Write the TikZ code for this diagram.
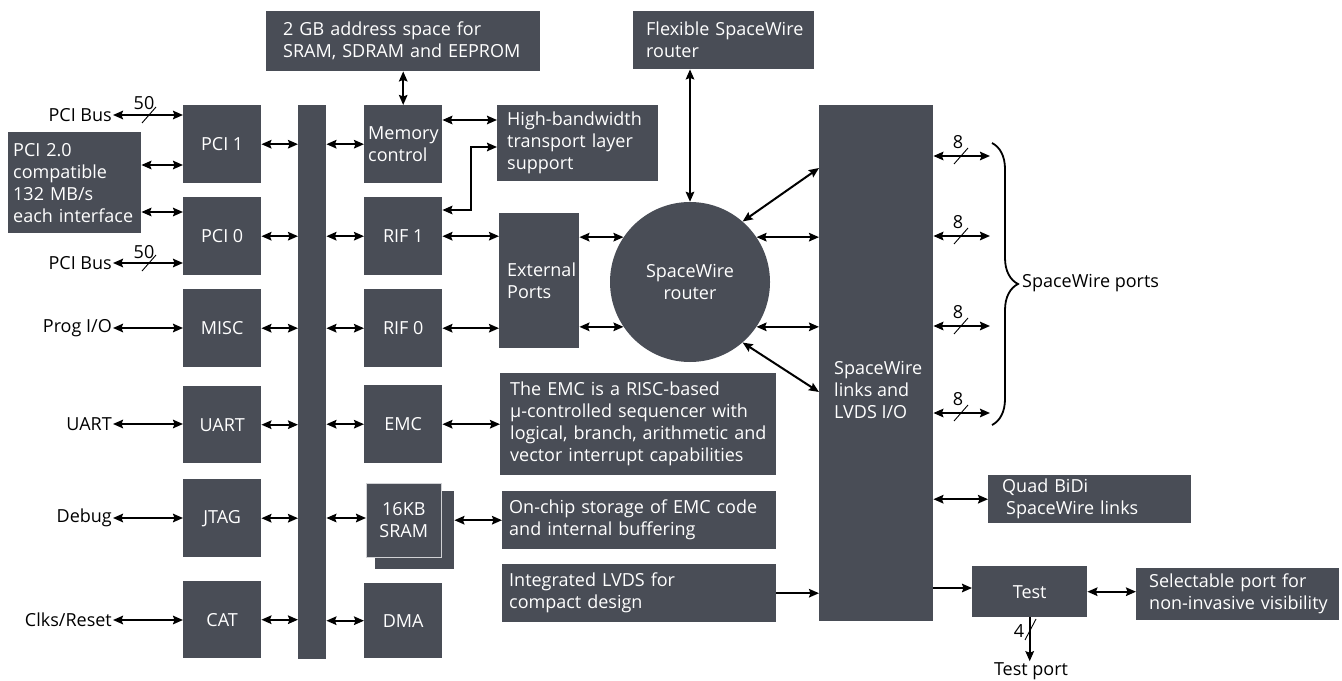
\documentclass[tikz,border=0pt]{standalone}
\usepackage{fontspec}
\setmainfont{Open Sans}
\usetikzlibrary{arrows.meta,decorations.pathreplacing,calc}
\definecolor{boxc}{RGB}{73,77,86}
\newcommand\tf{\fontsize{18bp}{22bp}\selectfont}
\newcommand\mb[1]{\mbox{#1}}
\begin{document}
\begin{tikzpicture}[x=1bp,y=-1bp,
 box/.style={fill=boxc,text=white,inner sep=0pt,font=\tf,align=center,anchor=north west},
 lbox/.style={box,align=left},
 lab/.style={font=\tf,inner sep=1bp},
 tip/.tip={Stealth[length=10bp,width=8.5bp,inset=1.5bp]},
 conn/.style={line width=2bp,tip-tip},
 oneway/.style={line width=2bp,-tip},
 slash/.style={line width=0.9bp}]
\useasboundingbox (0,0) rectangle (1342,680);

% description boxes (left aligned)
\node[lbox,minimum width=274bp,minimum height=60bp,inner xsep=17bp,text width=240bp] (gb) at (266,11) {\mb{2 GB address space for}\\\mb{SRAM, SDRAM and EEPROM}};
\node[lbox,minimum width=181bp,minimum height=58bp,inner xsep=13bp,text width=155bp] (flex) at (633,11) {\mb{Flexible SpaceWire}\\\mb{router}};
\node[lbox,minimum width=133bp,minimum height=101bp,inner xsep=5bp,text width=123bp] (pcid) at (8,132) {\mb{PCI 2.0}\\\mb{compatible}\\\mb{132 MB/s}\\\mb{each interface}};
\node[lbox,minimum width=78bp,minimum height=78bp,inner xsep=4bp,text width=70bp] (mem) at (364,105) {\mb{Memory}\\\mb{control}};
\node[lbox,minimum width=161bp,minimum height=76bp,inner xsep=10bp,text width=141bp] (hb) at (497,105) {\mb{High-bandwidth}\\\mb{transport layer}\\\mb{support}};
\node[lbox,minimum width=80bp,minimum height=135bp,inner xsep=8bp,text width=64bp] (ext) at (499,213) {\mb{External}\\\mb{Ports}};
\node[lbox,minimum width=276bp,minimum height=102bp,inner xsep=10bp,text width=256bp] (emcd) at (500,373) {\mb{The EMC is a RISC-based}\\\mb{μ-controlled sequencer with}\\\mb{logical, branch, arithmetic and}\\\mb{vector interrupt capabilities}};
\node[lbox,minimum width=274bp,minimum height=58bp,inner xsep=7bp,text width=260bp] (onchip) at (502,491) {\mb{On-chip storage of EMC code}\\\mb{and internal buffering}};
\node[lbox,minimum width=274bp,minimum height=58bp,inner xsep=7bp,text width=260bp] (lvds) at (502,564) {\mb{Integrated LVDS for}\\\mb{compact design}};
\node[lbox,minimum width=203bp,minimum height=48bp,inner xsep=14bp,text width=175bp] (quad) at (988,475) {\mb{Quad BiDi}\\\mb{\hspace{4bp}SpaceWire links}};
\node[lbox,minimum width=203bp,minimum height=52bp,inner xsep=13bp,text width=177bp] (sel) at (1136,568) {\mb{Selectable port for}\\\mb{non-invasive visibility}};

% left column
\node[box,minimum width=78bp,minimum height=78bp] (pci1) at (183,105) {PCI 1};
\node[box,minimum width=78bp,minimum height=78bp] (pci0) at (183,197) {PCI 0};
\node[box,minimum width=78bp,minimum height=78bp] (misc) at (183,289) {MISC};
\node[box,minimum width=78bp,minimum height=77bp] (uart) at (183,386) {UART};
\node[box,minimum width=78bp,minimum height=78bp] (jtag) at (183,479) {JTAG};
\node[box,minimum width=78bp,minimum height=77bp] (cat) at (183,581) {CAT};
% bus
\node[box,minimum width=28bp,minimum height=554bp] (bus) at (298,105) {};
% middle column
\node[box,minimum width=78bp,minimum height=78bp] (rif1) at (364,197) {RIF 1};
\node[box,minimum width=78bp,minimum height=78bp] (rif0) at (364,289) {RIF 0};
\node[box,minimum width=78bp,minimum height=78bp] (emc) at (364,385) {EMC};
\node[box,minimum width=79bp,minimum height=78bp] (sramb) at (375,491) {};
\node[box,minimum width=75bp,minimum height=74bp,draw=white!75!boxc,line width=0.6bp] (sram) at (366,483) {16KB\\SRAM};
\node[box,minimum width=78bp,minimum height=75bp] (dma) at (364,583) {DMA};
% router and links
\node[box,anchor=center,circle,minimum size=160bp] (circ) at (690,282) {SpaceWire\\router};
\node[box,minimum width=114bp,minimum height=516bp] (links) at (819,105) {};
\node[font=\tf,text=white,align=left,anchor=west,inner sep=0pt] (linkstxt) at (834,390) {SpaceWire\\links and\\LVDS I/O};
\node[box,minimum width=115bp,minimum height=51bp] (test) at (972,566) {Test};

% outside labels
\node[lab,anchor=east] (busA) at (113,115) {PCI Bus};
\node[lab,anchor=east] (busB) at (113,263) {PCI Bus};
\node[lab,anchor=east] (prog) at (113,328) {Prog I/O};
\node[lab,anchor=east] (uartl) at (113,424) {UART};
\node[lab,anchor=east] (dbg) at (113,518) {Debug};
\node[lab,anchor=east] (clk) at (113,620) {Clks/Reset};
\node[lab,anchor=west] (swp) at (1021,283) {SpaceWire ports};
\node[lab] (tp) at (1031,671) {Test port};
\node[lab] (n50a) at (144,103) {50};
\node[lab] (n50b) at (144,252) {50};
\node[lab] (n4) at (1019,631) {4};

% left side connections
\draw[conn] (busA.east) -- (busA.east -| pci1.west);
\draw[conn] (busB.east) -- (busB.east -| pci0.west);
\draw[slash] (142,123) -- (156,107);
\draw[slash] (142,271) -- (156,255);
\coordinate (a1) at ($(pcid.north east)+(0,33)$);
\coordinate (a2) at ($(pcid.north east)+(0,80)$);
\draw[conn] (a1) -- (a1 -| pci1.west);
\draw[conn] (a2) -- (a2 -| pci0.west);
\draw[conn] (prog.east) -- (prog.east -| misc.west);
\draw[conn] (uartl.east) -- (uartl.east -| uart.west);
\draw[conn] (dbg.east) -- (dbg.east -| jtag.west);
\draw[conn] (clk.east) -- (clk.east -| cat.west);

% to bus
\foreach \n in {pci1,pci0,misc,uart,jtag,cat}
  \draw[conn] (\n.east) -- (\n.east -| bus.west);
\foreach \n in {mem,rif1,rif0,emc,dma}
  \draw[conn] (\n.west -| bus.east) -- (\n.west);
\coordinate (s1) at ($(sram.north west)+(0,35)$);
\draw[conn] (s1 -| bus.east) -- (s1);

% memory
\draw[conn] (mem.north) -- (mem.north |- gb.south);
\coordinate (m1) at ($(mem.north east)+(0,15)$);
\draw[conn] (m1) -- (m1 -| hb.west);
\coordinate (r1) at ($(rif1.north east)+(0,13)$);
\coordinate (h1) at ($(hb.north west)+(0,42)$);
\coordinate (elb) at (471,0);
\draw[conn] (r1) -- (r1 -| elb) -- (h1 -| elb) -- (h1);

% external ports
\draw[conn] (rif1.east) -- (rif1.east -| ext.west);
\draw[conn] (rif0.east) -- (rif0.east -| ext.west);
\draw[conn] (circ.146) -- (circ.146 -| ext.east);
\draw[conn] (circ.214) -- (circ.214 -| ext.east);

% router
\draw[conn] (circ.north) -- (circ.north |- flex.south);
\draw[conn] (circ.34) -- (circ.34 -| links.west);
\draw[conn] (circ.-34) -- (circ.-34 -| links.west);
\coordinate (d1) at ($(links.north west)+(0,63)$);
\coordinate (d2) at ($(links.north west)+(0,287)$);
\draw[conn] (circ.49) -- (d1);
\draw[conn] (circ.-49) -- (d2);

% ports
\foreach \y [count=\i] in {156,236,326,413}{
  \coordinate (p\i) at (990,\y);
  \draw[conn] (p\i -| links.east) -- (p\i);
  \draw[slash] (954,\y+8) -- (968,\y-8);
  \node[lab] (e\i) at (958,\y-14) {8};
}
\draw[line width=1.8bp,decorate,decoration={brace,amplitude=26bp}] (992,143) -- (992,425);

% EMC / SRAM / LVDS
\draw[conn] (emc.east) -- (emc.east -| emcd.west);
\draw[conn] (onchip.west -| sramb.east) -- (onchip.west);
\draw[oneway] (lvds.east) -- (lvds.east -| links.west);

% right side
\draw[conn] (quad.west -| links.east) -- (quad.west);
\coordinate (t1) at ($(test.north west)+(0,22)$);
\draw[oneway] (t1 -| links.east) -- (t1);
\draw[conn] (test.east) -- (test.east -| sel.west);
\draw[oneway] (test.south) -- (test.south |- tp.north);
\draw[slash] (1025,640) -- (1036,619);
\end{tikzpicture}
\end{document}
